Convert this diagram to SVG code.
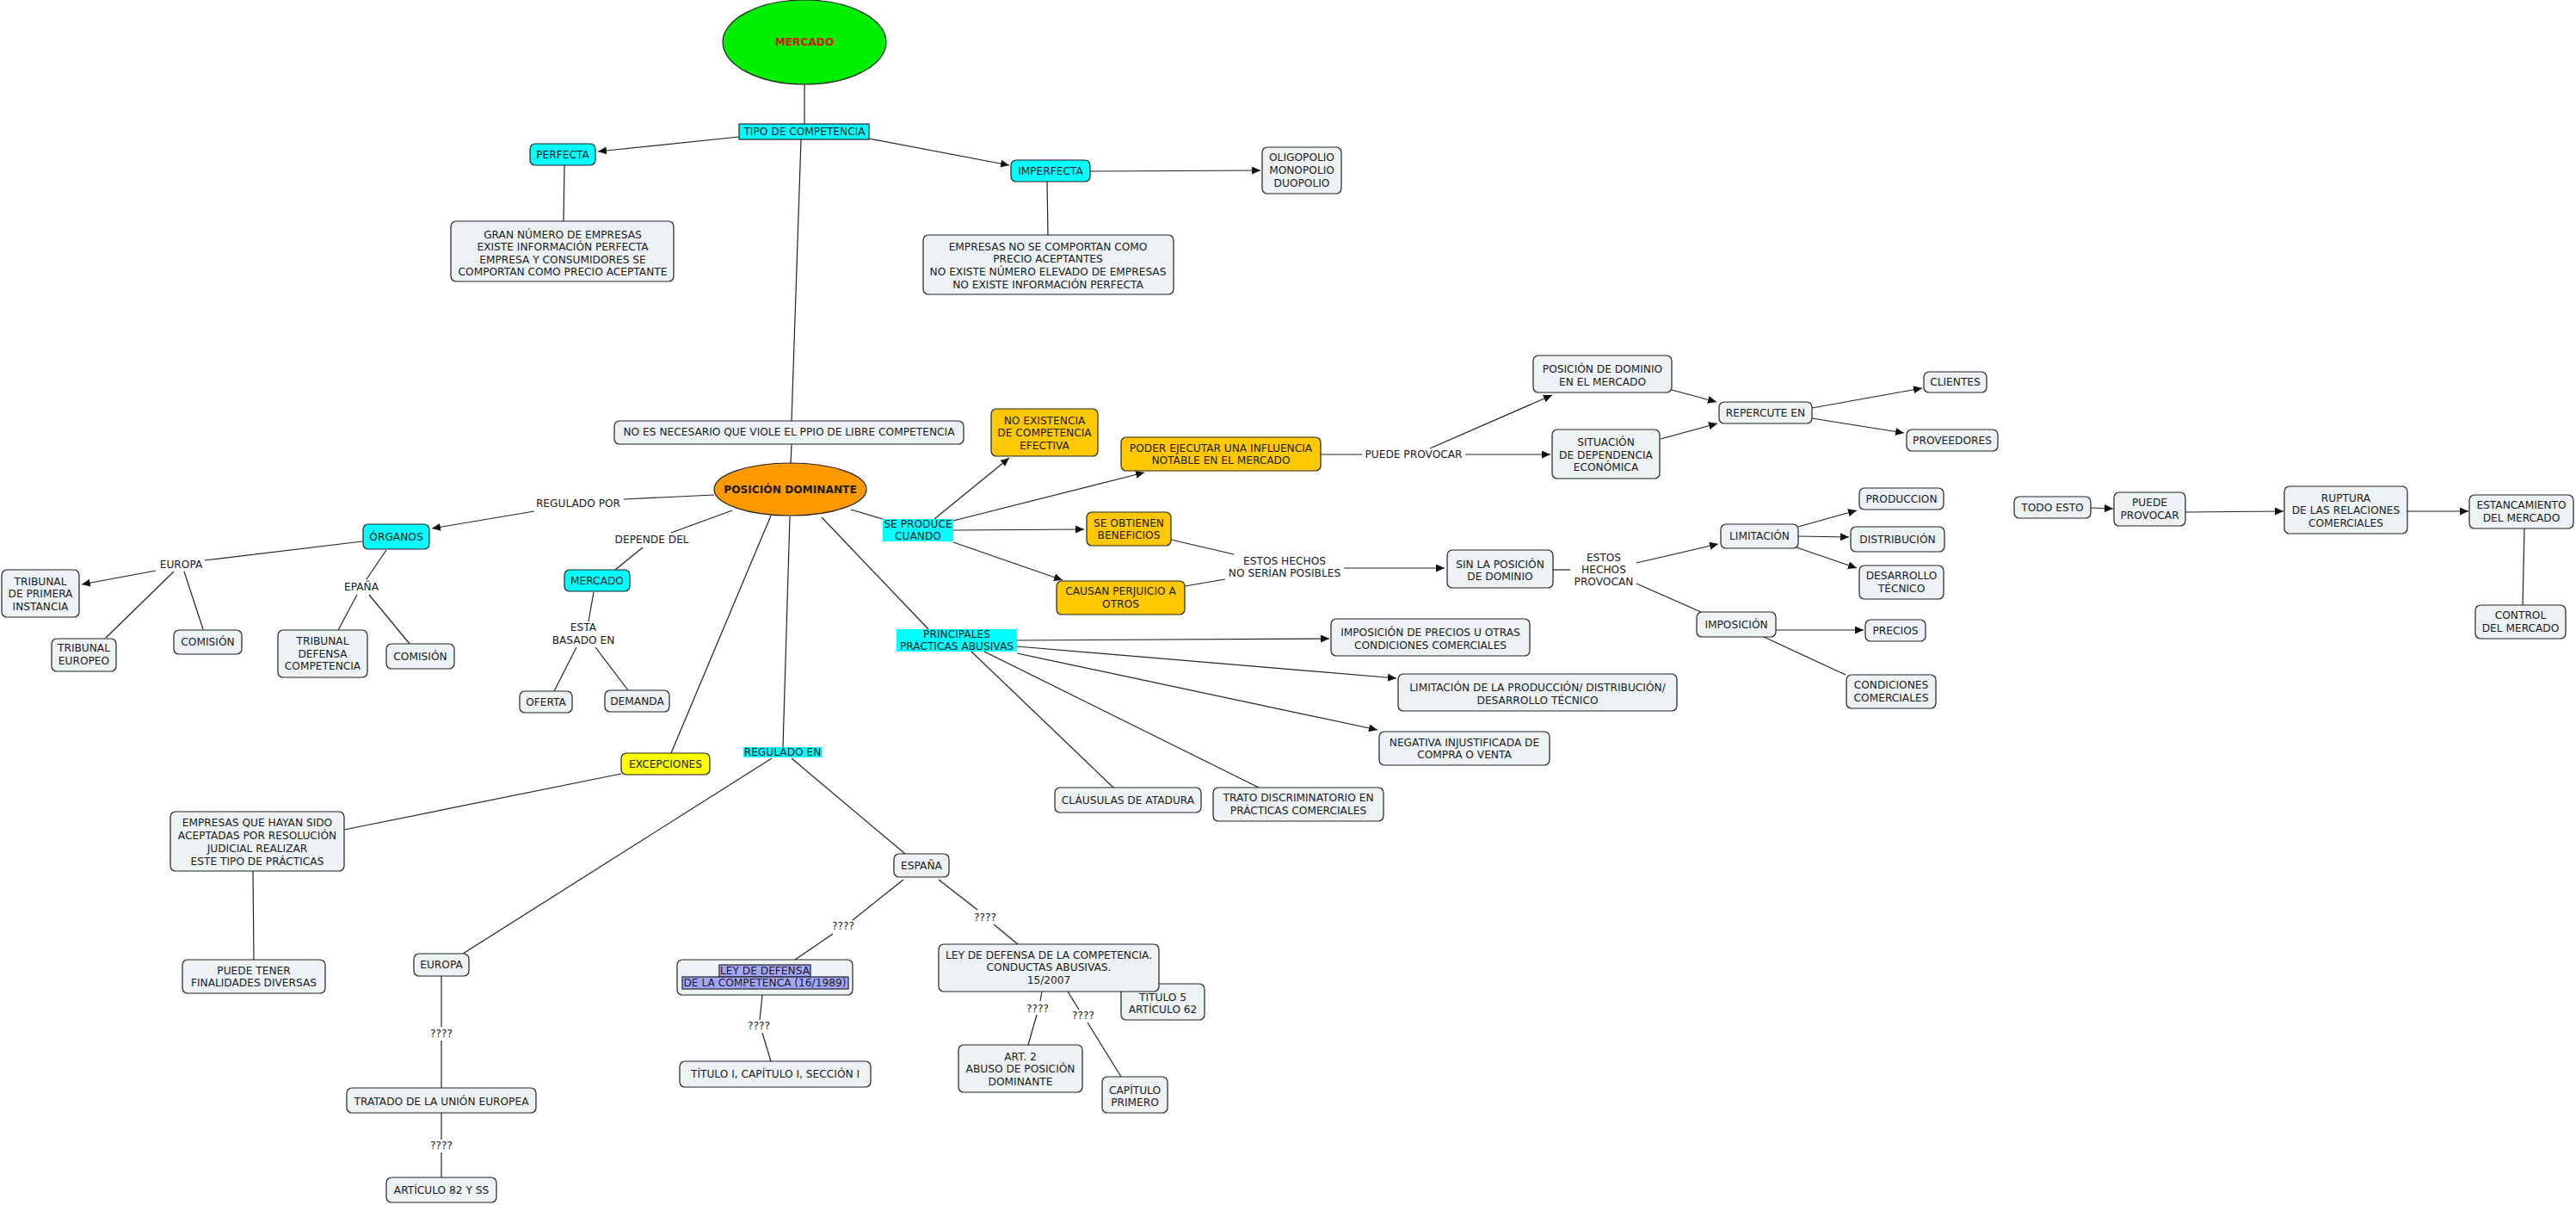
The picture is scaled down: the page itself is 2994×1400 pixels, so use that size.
<svg xmlns="http://www.w3.org/2000/svg" width="2994" height="1400" viewBox="0 0 2994 1400">
<style>
text{font-family:"DejaVu Sans",Verdana,sans-serif;font-size:12.2px;fill:#1a1a1a;text-anchor:middle}
.b{font-weight:bold}
.n rect,.n ellipse{stroke:#222;stroke-width:1.2}
.d{fill:#edf2f4}
.cy{fill:#00ffff}
.go{fill:#ffc800}
.lab{fill:#00ffff;stroke:none}
.c line{stroke:#222;stroke-width:1.2}
.c line.a{marker-end:url(#ah)}
</style>
<defs>
<marker id="ah" markerUnits="userSpaceOnUse" markerWidth="11" markerHeight="10" refX="10" refY="4.5" orient="auto">
<path d="M0,0 L10,4.5 L0,9 z" fill="#111"/>
</marker>
</defs>
<rect width="2994" height="1400" fill="#fff"/>
<g id="connectors" class="c">
<line x1="935" y1="98" x2="935" y2="144"/>
<line x1="931" y1="162" x2="920" y2="489"/>
<line x1="656" y1="192" x2="655" y2="257"/>
<line x1="1217" y1="211" x2="1218" y2="273"/>
<line x1="920" y1="516" x2="919" y2="538"/>
<line class="a" x1="859" y1="159" x2="695" y2="176"/>
<line class="a" x1="1010" y1="161" x2="1173" y2="192"/>
<line class="a" x1="1267" y1="199" x2="1465" y2="198"/>
<line x1="830" y1="575" x2="725" y2="580"/>
<line class="a" x1="621" y1="594" x2="502" y2="614"/>
<line x1="421" y1="629" x2="238" y2="651"/>
<line class="a" x1="181" y1="663" x2="95" y2="679"/>
<line x1="202" y1="664" x2="123" y2="741"/>
<line x1="214" y1="664" x2="236" y2="731"/>
<line x1="449" y1="639" x2="426" y2="673"/>
<line x1="415" y1="691" x2="393" y2="732"/>
<line x1="429" y1="691" x2="476" y2="748"/>
<line x1="851" y1="593" x2="780" y2="619"/>
<line x1="747" y1="636" x2="715" y2="662"/>
<line x1="690" y1="688" x2="684" y2="722"/>
<line x1="670" y1="752" x2="644" y2="803"/>
<line x1="692" y1="752" x2="730" y2="802"/>
<line x1="896" y1="599" x2="780" y2="875"/>
<line x1="918" y1="600" x2="910" y2="868"/>
<line x1="955" y1="601" x2="1079" y2="731"/>
<line x1="989" y1="592" x2="1026" y2="603"/>
<line x1="722" y1="899" x2="400" y2="964"/>
<line x1="294" y1="1012" x2="295" y2="1115"/>
<line x1="897" y1="881" x2="538" y2="1108"/>
<line x1="920" y1="881" x2="1052" y2="992"/>
<line x1="513" y1="1134" x2="513" y2="1193"/>
<line x1="513" y1="1209" x2="513" y2="1264"/>
<line x1="513" y1="1293" x2="513" y2="1324"/>
<line x1="513" y1="1339" x2="513" y2="1368"/>
<line x1="1050" y1="1022" x2="991" y2="1069"/>
<line x1="968" y1="1085" x2="924" y2="1115"/>
<line x1="886" y1="1156" x2="883" y2="1185"/>
<line x1="886" y1="1200" x2="896" y2="1233"/>
<line x1="1091" y1="1022" x2="1136" y2="1057"/>
<line x1="1155" y1="1074" x2="1183" y2="1097"/>
<line x1="1211" y1="1152" x2="1209" y2="1163"/>
<line x1="1205" y1="1179" x2="1195" y2="1214"/>
<line x1="1241" y1="1152" x2="1254" y2="1173"/>
<line x1="1264" y1="1188" x2="1303" y2="1251"/>
<line class="a" x1="1086" y1="603" x2="1173" y2="532"/>
<line class="a" x1="1108" y1="605" x2="1330" y2="549"/>
<line class="a" x1="1108" y1="616" x2="1260" y2="615"/>
<line class="a" x1="1108" y1="630" x2="1235" y2="674"/>
<line x1="1361" y1="627" x2="1434" y2="644"/>
<line x1="1377" y1="681" x2="1424" y2="673"/>
<line class="a" x1="1562" y1="660" x2="1679" y2="660"/>
<line x1="1534" y1="528" x2="1583" y2="528"/>
<line class="a" x1="1703" y1="528" x2="1802" y2="528"/>
<line class="a" x1="1662" y1="521" x2="1804" y2="459"/>
<line x1="1805" y1="662" x2="1825" y2="662"/>
<line class="a" x1="1902" y1="654" x2="1997" y2="632"/>
<line x1="1902" y1="678" x2="1977" y2="711"/>
<line class="a" x1="1943" y1="453" x2="1995" y2="467"/>
<line class="a" x1="1930" y1="510" x2="1996" y2="492"/>
<line class="a" x1="2106" y1="474" x2="2234" y2="451"/>
<line class="a" x1="2106" y1="486" x2="2213" y2="503"/>
<line class="a" x1="2090" y1="612" x2="2158" y2="593"/>
<line class="a" x1="2090" y1="623" x2="2149" y2="624"/>
<line class="a" x1="2088" y1="636" x2="2158" y2="660"/>
<line class="a" x1="2064" y1="732" x2="2166" y2="732"/>
<line x1="2050" y1="740" x2="2145" y2="784"/>
<line class="a" x1="1182" y1="744" x2="1545" y2="742"/>
<line class="a" x1="1182" y1="751" x2="1623" y2="788"/>
<line class="a" x1="1182" y1="759" x2="1601" y2="848"/>
<line x1="1129" y1="757" x2="1294" y2="915"/>
<line x1="1144" y1="757" x2="1463" y2="915"/>
<line class="a" x1="2430" y1="590" x2="2456" y2="591"/>
<line class="a" x1="2540" y1="595" x2="2654" y2="594"/>
<line class="a" x1="2798" y1="594" x2="2869" y2="594"/>
<line x1="2934" y1="614" x2="2932" y2="703"/>
</g>
<g id="n-mercado" class="n"><ellipse cx="935" cy="49" rx="95" ry="49" fill="#00ee00"/><text class="b" x="935" y="53" style="fill:#cc1a00">MERCADO</text></g>
<g id="n-tipo" class="n"><rect class="cy" x="859" y="144" width="151" height="18"/><text x="935" y="157.4">TIPO DE COMPETENCIA</text></g>
<g id="n-perfecta" class="n"><rect class="cy" x="616" y="167" width="76" height="25" rx="6"/><text x="654" y="184">PERFECTA</text></g>
<g id="n-imperfecta" class="n"><rect class="cy" x="1175" y="186" width="92" height="25" rx="6"/><text x="1221" y="203">IMPERFECTA</text></g>
<g id="n-oligopolio" class="n"><rect class="d" x="1467" y="171" width="92" height="54" rx="6"/><text x="1513" y="187.4">OLIGOPOLIO</text><text x="1513" y="202.4">MONOPOLIO</text><text x="1513" y="217.4">DUOPOLIO</text></g>
<g id="n-gran" class="n"><rect class="d" x="524" y="257" width="259" height="70" rx="6"/><text x="654" y="276.5">GRAN NÚMERO DE EMPRESAS</text><text x="654" y="291">EXISTE INFORMACIÓN PERFECTA</text><text x="654" y="305.5">EMPRESA Y CONSUMIDORES SE</text><text x="654" y="320">COMPORTAN COMO PRECIO ACEPTANTE</text></g>
<g id="n-empresas-no" class="n"><rect class="d" x="1073" y="273" width="291" height="69" rx="6"/><text x="1218" y="291.4">EMPRESAS NO SE COMPORTAN COMO</text><text x="1218" y="305.4">PRECIO ACEPTANTES</text><text x="1218" y="320.4">NO EXISTE NÚMERO ELEVADO DE EMPRESAS</text><text x="1218" y="335.4">NO EXISTE INFORMACIÓN PERFECTA</text></g>
<g id="n-noes" class="n"><rect class="d" x="714" y="489" width="406" height="27" rx="6"/><text x="917" y="506.4">NO ES NECESARIO QUE VIOLE EL PPIO DE LIBRE COMPETENCIA</text></g>
<g id="n-posicion" class="n"><ellipse cx="918.5" cy="568.5" rx="88.5" ry="30.5" fill="#ff9900"/><text class="b" x="918.5" y="573">POSICIÓN DOMINANTE</text></g>
<g id="n-noexistencia" class="n"><rect class="go" x="1152" y="475" width="124" height="55" rx="6"/><text x="1214" y="493.4">NO EXISTENCIA</text><text x="1214" y="507.4">DE COMPETENCIA</text><text x="1214" y="522.4">EFECTIVA</text></g>
<g id="n-poder" class="n"><rect class="go" x="1303" y="508" width="232" height="39" rx="6"/><text x="1419" y="525.2">PODER EJECUTAR UNA INFLUENCIA</text><text x="1419" y="539">NOTABLE EN EL MERCADO</text></g>
<g id="n-seproduce"><rect class="lab" x="1026" y="603" width="82" height="26"/><text x="1067" y="613.2">SE PRODUCE</text><text x="1067" y="627.2">CUANDO</text></g>
<g id="n-seobtienen" class="n"><rect class="go" x="1263" y="595" width="98" height="39" rx="6"/><text x="1312" y="612.4">SE OBTIENEN</text><text x="1312" y="626.4">BENEFICIOS</text></g>
<g id="n-causan" class="n"><rect class="go" x="1228" y="675" width="149" height="39" rx="6"/><text x="1302.5" y="691.4">CAUSAN PERJUICIO A</text><text x="1302.5" y="706.4">OTROS</text></g>
<g id="n-estoshechos"><text x="1493" y="656.4">ESTOS HECHOS</text><text x="1493" y="670.4">NO SERÍAN POSIBLES</text></g>
<g id="n-sinla" class="n"><rect class="d" x="1682" y="639" width="123" height="44" rx="6"/><text x="1743.5" y="660.4">SIN LA POSICIÓN</text><text x="1743.5" y="674.4">DE DOMINIO</text></g>
<g id="n-puedeprovocar-label"><text x="1643" y="532.4">PUEDE PROVOCAR</text></g>
<g id="n-posdominio" class="n"><rect class="d" x="1782" y="413" width="161" height="43" rx="6"/><text x="1862.5" y="433.4">POSICIÓN DE DOMINIO</text><text x="1862.5" y="448.4">EN EL MERCADO</text></g>
<g id="n-situacion" class="n"><rect class="d" x="1804" y="499" width="125" height="57" rx="6"/><text x="1866.5" y="518.4">SITUACIÓN</text><text x="1866.5" y="533.4">DE DEPENDENCIA</text><text x="1866.5" y="547.4">ECONÓMICA</text></g>
<g id="n-repercute" class="n"><rect class="d" x="1998" y="467" width="108" height="25" rx="6"/><text x="2052" y="484">REPERCUTE EN</text></g>
<g id="n-clientes" class="n"><rect class="d" x="2236" y="432" width="73" height="24" rx="6"/><text x="2272.5" y="448.4">CLIENTES</text></g>
<g id="n-proveedores" class="n"><rect class="d" x="2216" y="499" width="106" height="25" rx="6"/><text x="2269" y="516.4">PROVEEDORES</text></g>
<g id="n-produccion" class="n"><rect class="d" x="2161" y="567" width="98" height="25" rx="6"/><text x="2210" y="584.4">PRODUCCION</text></g>
<g id="n-limitacion" class="n"><rect class="d" x="2000" y="609" width="90" height="28" rx="6"/><text x="2045" y="627.4">LIMITACIÓN</text></g>
<g id="n-distribucion" class="n"><rect class="d" x="2151" y="612" width="109" height="29" rx="6"/><text x="2205.5" y="631.4">DISTRIBUCIÓN</text></g>
<g id="n-desarrollo" class="n"><rect class="d" x="2161" y="657" width="98" height="39" rx="6"/><text x="2210" y="673.4">DESARROLLO</text><text x="2210" y="688.4">TÉCNICO</text></g>
<g id="n-provocan-label"><text x="1864" y="652.4">ESTOS</text><text x="1864" y="666.4">HECHOS</text><text x="1864" y="680.4">PROVOCAN</text></g>
<g id="n-imposicion" class="n"><rect class="d" x="1972" y="711" width="92" height="29" rx="6"/><text x="2018" y="730">IMPOSICIÓN</text></g>
<g id="n-precios" class="n"><rect class="d" x="2168" y="720" width="70" height="25" rx="6"/><text x="2203" y="737">PRECIOS</text></g>
<g id="n-condiciones" class="n"><rect class="d" x="2146" y="784" width="104" height="39" rx="6"/><text x="2198" y="800.4">CONDICIONES</text><text x="2198" y="815.4">COMERCIALES</text></g>
<g id="n-imposicionprecios" class="n"><rect class="d" x="1547" y="719" width="231" height="43" rx="6"/><text x="1662.5" y="739.4">IMPOSICIÓN DE PRECIOS U OTRAS</text><text x="1662.5" y="754.4">CONDICIONES COMERCIALES</text></g>
<g id="n-limitacionprod" class="n"><rect class="d" x="1625" y="783" width="324" height="43" rx="6"/><text x="1787" y="803.4">LIMITACIÓN DE LA PRODUCCIÓN/ DISTRIBUCIÓN/</text><text x="1787" y="818.4">DESARROLLO TÉCNICO</text></g>
<g id="n-negativa" class="n"><rect class="d" x="1603" y="850" width="198" height="39" rx="6"/><text x="1702" y="867.4">NEGATIVA INJUSTIFICADA DE</text><text x="1702" y="881.4">COMPRA O VENTA</text></g>
<g id="n-principales"><rect class="lab" x="1042" y="731" width="140" height="26"/><text x="1112" y="741.4">PRINCIPALES</text><text x="1112" y="755.4">PRÁCTICAS ABUSIVAS</text></g>
<g id="n-clausulas" class="n"><rect class="d" x="1226" y="915" width="170" height="29" rx="6"/><text x="1311" y="934.4">CLÁUSULAS DE ATADURA</text></g>
<g id="n-trato" class="n"><rect class="d" x="1410" y="915" width="198" height="39" rx="6"/><text x="1509" y="931.4">TRATO DISCRIMINATORIO EN</text><text x="1509" y="946.4">PRÁCTICAS COMERCIALES</text></g>
<g id="n-espana" class="n"><rect class="d" x="1039" y="992" width="64" height="27" rx="6"/><text x="1071" y="1010.4">ESPAÑA</text></g>
<g id="n-titulo5" class="n"><rect class="d" x="1303" y="1143" width="97" height="42" rx="6"/><text x="1351.5" y="1163.4">TITULO 5</text><text x="1351.5" y="1177.4">ARTÍCULO 62</text></g>
<g id="n-ley2007" class="n"><rect class="d" x="1091" y="1097" width="256" height="55" rx="6"/><text x="1219" y="1114.4">LEY DE DEFENSA DE LA COMPETENCIA.</text><text x="1219" y="1128.4">CONDUCTAS ABUSIVAS.</text><text x="1219" y="1143.4">15/2007</text></g>
<g id="n-art2" class="n"><rect class="d" x="1114" y="1214" width="144" height="55" rx="6"/><text x="1186" y="1232.4">ART. 2</text><text x="1186" y="1246.4">ABUSO DE POSICIÓN</text><text x="1186" y="1261.4">DOMINANTE</text></g>
<g id="n-capitulo" class="n"><rect class="d" x="1281" y="1251" width="76" height="42" rx="6"/><text x="1319" y="1271.4">CAPÍTULO</text><text x="1319" y="1285.4">PRIMERO</text></g>
<g id="n-excepciones" class="n"><rect x="722" y="875" width="103" height="25" rx="6" fill="#ffff00"/><text x="773.5" y="892">EXCEPCIONES</text></g>
<g id="n-reguladoen"><rect class="lab" x="864" y="868" width="91" height="12"/><text x="909.5" y="878.4">REGULADO EN</text></g>
<g id="n-empresasque" class="n"><rect class="d" x="198" y="943" width="202" height="69" rx="6"/><text x="299" y="960.4">EMPRESAS QUE HAYAN SIDO</text><text x="299" y="975.4">ACEPTADAS POR RESOLUCIÓN</text><text x="299" y="990.4">JUDICIAL REALIZAR</text><text x="299" y="1004.9">ESTE TIPO DE PRÁCTICAS</text></g>
<g id="n-puedetener" class="n"><rect class="d" x="212" y="1115" width="166" height="39" rx="6"/><text x="295" y="1132">PUEDE TENER</text><text x="295" y="1146.4">FINALIDADES DIVERSAS</text></g>
<g id="n-europa2" class="n"><rect class="d" x="481" y="1108" width="64" height="26" rx="6"/><text x="513" y="1125.4">EUROPA</text></g>
<g id="n-ley1989" class="n"><rect class="d" x="787" y="1115" width="204" height="41" rx="6"/><rect x="836" y="1121" width="106" height="14" fill="#a3a5fa" stroke="none"/><rect x="793" y="1135" width="193" height="14" fill="#a3a5fa" stroke="none"/><text x="889" y="1132.4">LEY DE DEFENSA</text><text x="889" y="1146.4">DE LA COMPETENCA (16/1989)</text></g>
<g id="n-titulo1" class="n"><rect class="d" x="790" y="1233" width="222" height="30" rx="6"/><text x="901" y="1252.4">TÍTULO I, CAPÍTULO I, SECCIÓN I</text></g>
<g id="n-tratado" class="n"><rect class="d" x="403" y="1264" width="220" height="29" rx="6"/><text x="513" y="1284">TRATADO DE LA UNIÓN EUROPEA</text></g>
<g id="n-art82" class="n"><rect class="d" x="449" y="1368" width="128" height="29" rx="6"/><text x="513" y="1387.4">ARTÍCULO 82 Y SS</text></g>
<g id="n-organos" class="n"><rect class="cy" x="422" y="609" width="77" height="29" rx="6"/><text x="460.5" y="628">ÓRGANOS</text></g>
<g id="n-reguladopor-label"><text x="672" y="589.4">REGULADO POR</text></g>
<g id="n-europa-label"><text x="210.5" y="660.4">EUROPA</text></g>
<g id="n-tribprimera" class="n"><rect class="d" x="2" y="662" width="90" height="55" rx="6"/><text x="47" y="680.4">TRIBUNAL</text><text x="47" y="694.4">DE PRIMERA</text><text x="47" y="709.4">INSTANCIA</text></g>
<g id="n-tribeuropeo" class="n"><rect class="d" x="60" y="742" width="75" height="38" rx="6"/><text x="97.5" y="757.4">TRIBUNAL</text><text x="97.5" y="772.4">EUROPEO</text></g>
<g id="n-comision1" class="n"><rect class="d" x="202" y="732" width="79" height="28" rx="6"/><text x="241.5" y="750.4">COMISIÓN</text></g>
<g id="n-epana-label"><text x="420" y="686.4">EPAÑA</text></g>
<g id="n-tribdefensa" class="n"><rect class="d" x="323" y="732" width="104" height="55" rx="6"/><text x="375" y="749.4">TRIBUNAL</text><text x="375" y="764.4">DEFENSA</text><text x="375" y="778.4">COMPETENCIA</text></g>
<g id="n-comision2" class="n"><rect class="d" x="449" y="748" width="79" height="29" rx="6"/><text x="488.5" y="767.4">COMISIÓN</text></g>
<g id="n-mercado2" class="n"><rect class="cy" x="656" y="662" width="76" height="25" rx="6"/><text x="694" y="679.4">MERCADO</text></g>
<g id="n-depende-label"><text x="757.6" y="631.4">DEPENDE DEL</text></g>
<g id="n-esta-label"><text x="678" y="733.4">ESTA</text><text x="678" y="748.4">BASADO EN</text></g>
<g id="n-oferta" class="n"><rect class="d" x="604" y="803" width="61" height="25" rx="6"/><text x="634.5" y="820">OFERTA</text></g>
<g id="n-demanda" class="n"><rect class="d" x="703" y="802" width="75" height="25" rx="6"/><text x="740.5" y="819.4">DEMANDA</text></g>
<g id="n-q1"><text x="1145" y="1070.4">????</text></g>
<g id="n-q2"><text x="1206" y="1176.4">????</text></g>
<g id="n-q3"><text x="1259" y="1184.4">????</text></g>
<g id="n-q4"><text x="513" y="1205.4">????</text></g>
<g id="n-q5"><text x="513" y="1335.4">????</text></g>
<g id="n-q6"><text x="980" y="1080.4">????</text></g>
<g id="n-q7"><text x="882" y="1196.4">????</text></g>
<g id="n-todoesto" class="n"><rect class="d" x="2341" y="577" width="89" height="25" rx="6"/><text x="2385.5" y="594.4">TODO ESTO</text></g>
<g id="n-puedeprovocar" class="n"><rect class="d" x="2457" y="572" width="83" height="39" rx="6"/><text x="2498.5" y="588.4">PUEDE</text><text x="2498.5" y="603.4">PROVOCAR</text></g>
<g id="n-ruptura" class="n"><rect class="d" x="2655" y="565" width="143" height="55" rx="6"/><text x="2726.5" y="583.4">RUPTURA</text><text x="2726.5" y="597.4">DE LAS RELACIONES</text><text x="2726.5" y="612.4">COMERCIALES</text></g>
<g id="n-estancamiento" class="n"><rect class="d" x="2870" y="575" width="121" height="39" rx="6"/><text x="2930.5" y="591.4">ESTANCAMIENTO</text><text x="2930.5" y="606.4">DEL MERCADO</text></g>
<g id="n-control" class="n"><rect class="d" x="2877" y="703" width="105" height="39" rx="6"/><text x="2929.5" y="719.4">CONTROL</text><text x="2929.5" y="734.4">DEL MERCADO</text></g>
</svg>
